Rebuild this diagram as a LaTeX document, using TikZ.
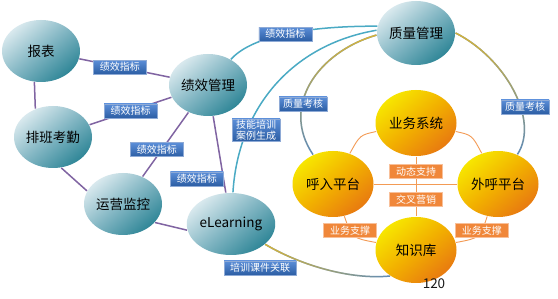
\documentclass[tikz,border=0pt]{standalone}
\usepackage{fontspec}
\setmainfont{Noto Sans CJK SC}
\usetikzlibrary{shapes.geometric,fadings}

\definecolor{tealhi}{HTML}{D9E9EE}
\definecolor{tealmd}{HTML}{82B6C3}
\definecolor{tealdk}{HTML}{2F8697}
\definecolor{goldhi}{HTML}{F7E600}
\definecolor{goldmd}{HTML}{F2B000}
\definecolor{golddk}{HTML}{E87A10}
\definecolor{labhi}{HTML}{5B8ED8}
\definecolor{labdk}{HTML}{2C5EA4}
\definecolor{labedge}{HTML}{8EAAD6}
\definecolor{orlab}{HTML}{F0873A}
\definecolor{orlabedge}{HTML}{F8C09A}
\definecolor{cPurple}{HTML}{8064A2}
\definecolor{cAqua}{HTML}{4AAAC4}
\definecolor{cOrange}{HTML}{F39B55}
\definecolor{arcblue}{HTML}{5F8BB8}
\definecolor{arcgold}{HTML}{D6B43A}

\begin{document}
\begin{tikzpicture}[x=1pt, y=-1pt, line width=1.2pt,
  tealball/.style={ellipse, inner sep=0pt, minimum width=78pt, minimum height=62pt,
    top color=tealhi, bottom color=tealdk, middle color=tealmd, shading angle=40,
    font=\fontsize{13.5}{14}\selectfont},
  goldball/.style={ellipse, inner sep=0pt, minimum width=81pt, minimum height=66pt,
    top color=goldhi, bottom color=golddk, middle color=goldmd, shading angle=40,
    font=\fontsize{13.5}{14}\selectfont},
  blab/.style={draw=labedge, line width=0.5pt, top color=labhi, bottom color=labdk,
    text=white, font=\fontsize{10}{11}\selectfont, inner xsep=4pt, inner ysep=1pt,
    minimum height=14pt},
  wide/.style={minimum width=53pt},
  olab/.style={draw=orlabedge, line width=0.5pt, fill=orlab, text=white,
    font=\fontsize{10}{11}\selectfont, inner xsep=4pt, inner ysep=1pt,
    minimum height=14pt, minimum width=53pt},
  purp/.style={draw=cPurple, line width=1.5pt},
  aqua/.style={draw=cAqua, line width=1.5pt},
  arcline/.style={draw=arcblue, line width=1.5pt},
  orline/.style={draw=cOrange, line width=0.9pt}]

  \path[use as bounding box, fill=white] (0,0) rectangle (558,299);

  % teal balls on the left
  \node[tealball] (bb) at (41,51)   {报表};
  \node[tealball] (jx) at (208,85)  {绩效管理};
  \node[tealball] (pb) at (53,137)  {排班考勤};
  \node[tealball] (yy) at (123,204) {运营监控};
  \node[tealball] (el) at (231,224) {eLearning};
  \node[tealball, minimum height=64pt] (zl) at (416,33) {质量管理};
  % gold balls of the ring
  \node[goldball] (yw) at (416,123) {业务系统};
  \node[goldball] (hr) at (333,184) {呼入平台};
  \node[goldball] (wh) at (498,184) {外呼平台};
  \node[goldball] (zs) at (416,250) {知识库};

  % purple links
  \draw[purp] (bb) -- node[blab, wide, pos=.45] (l1) {绩效指标} (jx);
  \draw[purp] (bb.-102) -- (pb.122);
  \draw[purp] (pb) -- node[blab, wide] (l2) {绩效指标} (jx);
  \draw[purp] (pb.-75) -- (yy.160);
  \draw[purp] (yy) -- node[blab, wide, pos=.42, xshift=-5pt] (l3) {绩效指标} (jx);
  \draw[purp] (jx) -- node[blab, wide, pos=.82, anchor=east] (l4) {绩效指标} (el);
  \draw[purp] (yy.-30) -- (el.188);

  % aqua links up to the quality ball
  \draw[aqua] (jx) .. controls (250,38) and (300,26) ..
    node[blab, wide, pos=.52] (l5) {绩效指标} (zl.170);
  \draw[aqua] (el) .. controls (238,110) and (290,45) ..
    node[blab, pos=.27, xshift=9pt, align=center, font=\fontsize{10}{11}\selectfont] (l6) {技能培训\\案例生成} (zl.176);

  % blue to gold arcs
  \draw[arcline] (zl.183) .. controls (318,52) and (280,106) .. (hr);
  \draw[arcline, draw=arcgold, path fading=south] (zl.183) .. controls (318,52) and (280,106) .. (hr);
  \node[blab] (l7) at (303,104) {质量考核};
  \draw[arcline] (zl.east) .. controls (505,58) and (540,120) .. (wh);
  \draw[arcline, draw=arcgold, path fading=south] (zl.east) .. controls (505,58) and (540,120) .. (wh);
  \node[blab] (l8) at (525,107) {质量考核};
  \draw[arcline] (el) .. controls (300,265) and (350,280) .. (zs.225);
  \draw[arcline, draw=arcgold, path fading=east] (el) .. controls (300,265) and (350,280) .. (zs.225);
  \node[blab, minimum width=72pt] (l9) at (260,268) {培训课件关联};

  % orange links inside the ring
  \draw[orline] (yw) .. controls (360,135) .. (hr);
  \draw[orline] (yw) .. controls (472,135) .. (wh);
  \draw[orline] (hr) -- (wh);
  \draw[orline] (yw) -- node[olab, pos=.25] (o1) {动态支持}
    node[olab, pos=.72] (o2) {交叉营销} (zs);
  \draw[orline] (hr) .. controls (352,238) .. node[olab, pos=.3] (o3) {业务支撑} (zs);
  \draw[orline] (wh) .. controls (480,238) .. node[olab, pos=.3] (o4) {业务支撑} (zs);

  \node[font=\fontsize{13.5}{14}\selectfont, text=black!90] (pg) at (434,284) {120};
\end{tikzpicture}
\end{document}
